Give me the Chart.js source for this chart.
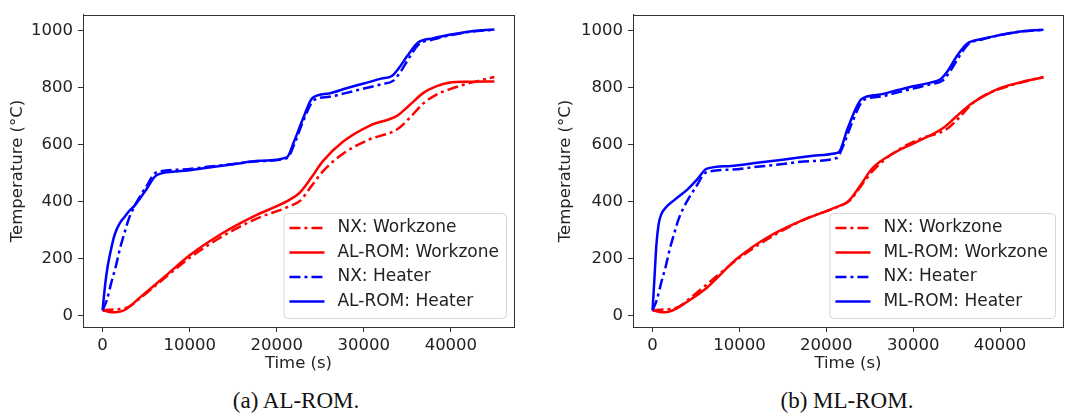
<!DOCTYPE html>
<html>
<head>
<meta charset="utf-8">
<script src="https://cdn.jsdelivr.net/npm/chart.js@4.4.1/dist/chart.umd.min.js"></script>
<style>
  body { margin:0; background:#fff; width:1066px; height:417px; position:relative; overflow:hidden; }
  .panel { position:absolute; top:0; }
  .caption { position:absolute; top:388px; font-family:"Liberation Serif","Times New Roman",serif; font-size:23px; color:#111; transform:translateX(-50%); white-space:nowrap; }
</style>
</head>
<body>
<canvas id="chartA" class="panel" width="530" height="374" style="left:0"></canvas>
<canvas id="chartB" class="panel" width="518" height="374" style="left:548px"></canvas>
<div class="caption" style="left:296px">(a) AL-ROM.</div>
<div class="caption" style="left:847px">(b) ML-ROM.</div>
<script>
// Оси
const xTicks = [0, 10000, 20000, 30000, 40000];
const yTicks = [0, 200, 400, 600, 800, 1000];

// NX (одинаковые на обоих графиках)
const nxHeaterTime = [0, 500, 1000, 1500, 2000, 2500, 3000, 3600, 4200, 5000, 6200, 9000, 12000, 15000, 18000, 21200, 22000, 23000, 24300, 26000, 28000, 30000, 32000, 33400, 34200, 35200, 36300, 38000, 40000, 42000, 45000];
const nxHeaterTemp = [18, 55, 115, 170, 235, 288, 338, 380, 413, 452, 503, 512, 522, 532, 542, 553, 600, 680, 757, 768, 782, 797, 812, 825, 855, 905, 952, 970, 985, 996, 1004];
const nxZoneTime = [0, 1000, 2000, 3000, 4300, 7400, 10000, 13900, 17700, 21300, 22700, 24000, 25300, 27600, 30700, 33800, 35300, 36800, 38300, 39900, 42000, 45000];
const nxZoneTemp = [18, 20, 22, 30, 60, 138, 202, 280, 340, 381, 403, 455, 506, 568, 619, 653, 695, 744, 775, 795, 815, 838];

// AL-ROM
const alHeaterTime = [0, 300, 600, 900, 1400, 2000, 2500, 3000, 3600, 4900, 6250, 9000, 12000, 15000, 18000, 21150, 22000, 23000, 24100, 26000, 28000, 30000, 32000, 33200, 34000, 35000, 36200, 38000, 40000, 42000, 45000];
const alHeaterTemp = [18, 110, 175, 222, 285, 325, 345, 365, 383, 437, 494, 507, 519, 531, 543, 555, 612, 690, 764, 780, 798, 815, 832, 841, 868, 912, 958, 974, 987, 997, 1005];
const alZoneTime = [0, 800, 1500, 2500, 4300, 7400, 10000, 13900, 17700, 21300, 22700, 24000, 25300, 27600, 30700, 33800, 35300, 36800, 38300, 39900, 42000, 45000];
const alZoneTemp = [18, 12, 11, 18, 63, 143, 211, 291, 353, 403, 433, 485, 542, 610, 667, 701, 740, 781, 805, 818, 821, 822];

// ML-ROM
const mlHeaterTime = [0, 200, 450, 700, 1000, 1500, 2500, 4000, 5200, 6200, 9000, 12000, 15000, 18000, 21100, 21500, 22500, 24100, 26000, 28000, 30000, 32000, 33100, 34000, 35000, 36200, 38000, 40000, 42000, 45000];
const mlHeaterTemp = [18, 120, 250, 320, 355, 378, 405, 442, 480, 515, 525, 536, 547, 559, 570, 575, 660, 761, 775, 790, 805, 818, 829, 860, 910, 955, 972, 985, 996, 1004];
const mlZoneTime = [0, 800, 1500, 2500, 3900, 6250, 9700, 13500, 17300, 20700, 22600, 24000, 25300, 28000, 30300, 33500, 35000, 36700, 38500, 40200, 42500, 45000];
const mlZoneTemp = [18, 12, 11, 20, 46, 97, 199, 279, 335, 375, 403, 460, 517, 574, 608, 659, 700, 744, 777, 801, 820, 837];

const FONT = { family: 'DejaVu Sans', size: 16.5 };
const LEGEND_SIZE = 17;
const dashDot = [11, 4, 3, 4];

function toPoints(t, v) {
  return t.map((x, i) => ({ x: x, y: v[i] }));
}

function makeSet(label, t, v, color, dash, order) {
  return {
    label: label, data: toPoints(t, v), borderColor: color, borderWidth: 2.5,
    borderDash: dash, pointRadius: 0, cubicInterpolationMode: 'monotone',
    fill: false, order: order
  };
}

// Рамка вокруг области графика
const framePlugin = {
  id: 'frame',
  afterDatasetsDraw(chart) {
    const a = chart.chartArea, ctx = chart.ctx;
    ctx.save();
    ctx.strokeStyle = '#333';
    ctx.lineWidth = 1;
    ctx.strokeRect(Math.round(a.left) + 0.5, Math.round(a.top) + 0.5, Math.round(a.right - a.left), Math.round(a.bottom - a.top));
    ctx.restore();
  }
};

// Легенда внутри графика, справа снизу
const legendPlugin = {
  id: 'innerLegend',
  afterDraw(chart) {
    const a = chart.chartArea, ctx = chart.ctx;
    const sets = chart.data.datasets;
    ctx.save();
    ctx.font = LEGEND_SIZE + 'px "' + FONT.family + '"';
    const textW = Math.max(...sets.map(d => ctx.measureText(d.label).width));
    const w = 54 + textW + 7, h = 105;
    const x = a.right - 8 - w, y = a.bottom - 9 - h;
    ctx.beginPath();
    ctx.roundRect(x + 0.5, y + 0.5, w, h, 4);
    ctx.fillStyle = 'rgba(255,255,255,0.8)';
    ctx.fill();
    ctx.strokeStyle = '#d6d6d6';
    ctx.lineWidth = 1;
    ctx.stroke();
    sets.forEach((d, i) => {
      const cy = y + 15 + i * 24.5;
      ctx.beginPath();
      ctx.strokeStyle = d.borderColor;
      ctx.lineWidth = d.borderWidth;
      ctx.setLineDash(d.borderDash || []);
      ctx.moveTo(x + 6, cy);
      ctx.lineTo(x + 41, cy);
      ctx.stroke();
      ctx.setLineDash([]);
      ctx.fillStyle = '#222';
      ctx.textBaseline = 'middle';
      ctx.fillText(d.label, x + 54, cy);
    });
    ctx.restore();
  }
};

function makeChart(id, rom, heaterT, heaterV, zoneT, zoneV, yWidth, padRight) {
  const axisStyle = {
    grid: { display: true, drawOnChartArea: false, drawTicks: true, tickLength: 5, color: '#333' },
    border: { display: true, color: '#333', width: 1 }
  };
  return new Chart(document.getElementById(id), {
    type: 'line',
    data: {
      datasets: [
        makeSet('NX: Workzone', nxZoneTime, nxZoneTemp, '#ff0000', dashDot, 4),
        makeSet(rom + ': Workzone', zoneT, zoneV, '#ff0000', [], 3),
        makeSet('NX: Heater', nxHeaterTime, nxHeaterTemp, '#0000ff', dashDot, 2),
        makeSet(rom + ': Heater', heaterT, heaterV, '#0000ff', [], 1)
      ]
    },
    options: {
      responsive: false,
      animation: false,
      layout: { padding: { left: 0, top: 5, right: padRight, bottom: 0 } },
      plugins: { legend: { display: false }, tooltip: { enabled: false } },
      scales: {
        x: {
          type: 'linear', min: -2250, max: 47250,
          afterBuildTicks: s => { s.ticks = xTicks.map(v => ({ value: v })); },
          afterFit: s => { s.height = 47; },
          ...axisStyle,
          ticks: { color: '#222', font: FONT, padding: 4, maxRotation: 0, autoSkip: false, callback: v => String(v) },
          title: { display: true, text: 'Time (s)', color: '#222', font: FONT, padding: { top: 0, bottom: 0 } }
        },
        y: {
          type: 'linear', min: -41, max: 1056,
          afterBuildTicks: s => { s.ticks = yTicks.map(v => ({ value: v })); },
          afterFit: s => { s.width = yWidth; },
          ...axisStyle,
          ticks: { color: '#222', font: FONT, padding: 5, autoSkip: false, callback: v => String(v) },
          title: { display: true, text: 'Temperature (°C)', color: '#222', font: FONT, padding: { top: 8, bottom: 0 } }
        }
      }
    },
    plugins: [framePlugin, legendPlugin]
  });
}

makeChart('chartA', 'AL-ROM', alHeaterTime, alHeaterTemp, alZoneTime, alZoneTemp, 83, 16);
makeChart('chartB', 'ML-ROM', mlHeaterTime, mlHeaterTemp, mlZoneTime, mlZoneTemp, 85, 3);
</script>
</body>
</html>
